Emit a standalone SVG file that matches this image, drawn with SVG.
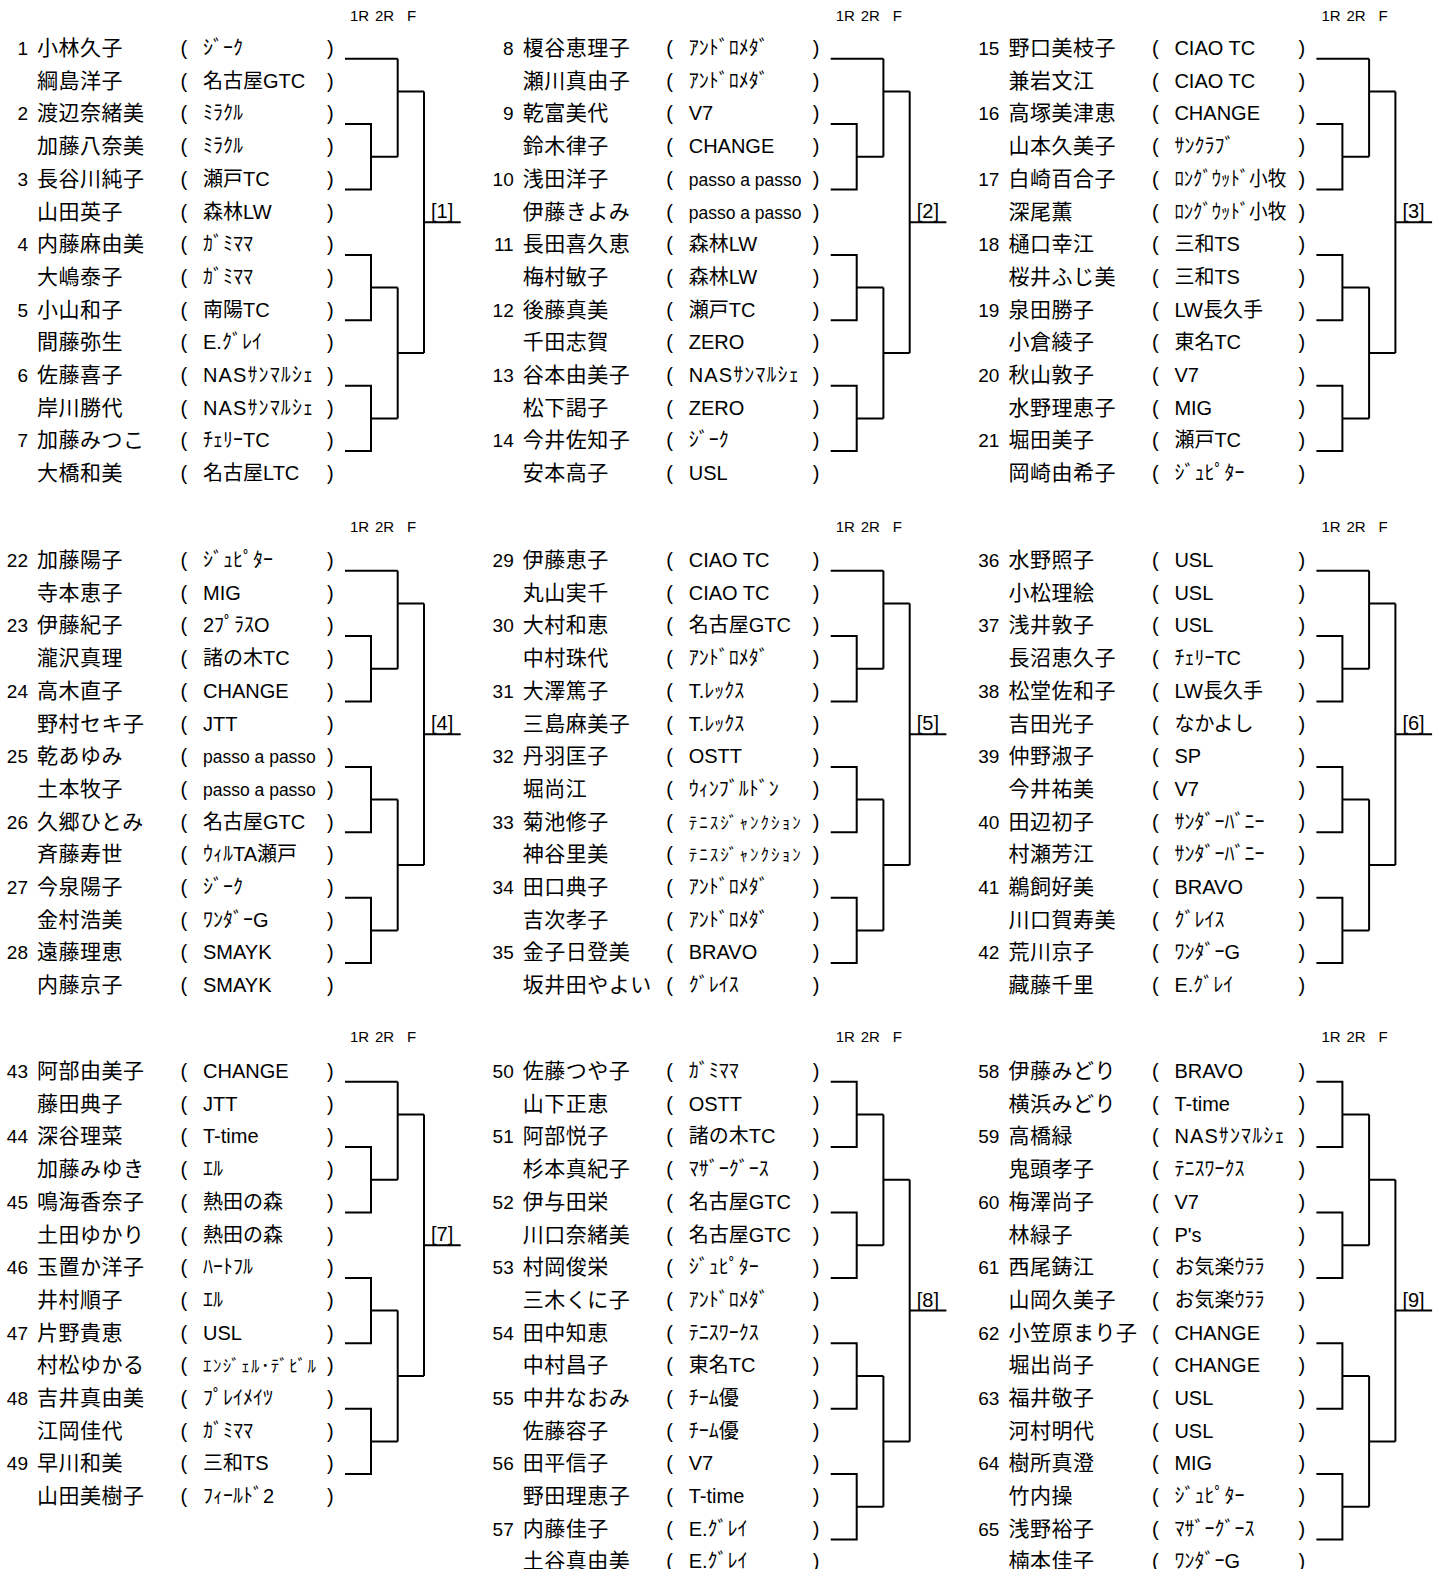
<svg xmlns="http://www.w3.org/2000/svg" xmlns:xlink="http://www.w3.org/1999/xlink" width="1442" height="1569" viewBox="0 0 1442 1569">
<style>
text{font-family:"Liberation Sans","Noto Sans CJK JP",sans-serif;fill:#000}
.n{font-size:19px;text-anchor:end}
.m{font-size:21px;letter-spacing:0.5px}
.p,.t{font-size:20px}
.s{font-size:17.5px}
.h{font-size:15px}
.r{font-size:20px}
.l{fill:none;stroke:#000;stroke-width:2}
</style>
<defs>
<path id="br7" class="l" d="M345 58.7H397.7M345 124.1H371V189.5H345M371 156.8H397.7M397.7 58.7V156.8M397.7 91.4H424M345 254.9H371V320.3H345M371 287.6H397.7M345 385.7H371V451.1H345M371 418.4H397.7M397.7 287.6V418.4M397.7 353H424M424 91.4V353M424 222.2H460.7"/>
<path id="br8" class="l" d="M345 58.7H371V124.1H345M371 91.4H397.7M345 189.5H371V254.9H345M371 222.2H397.7M397.7 91.4V222.2M397.7 156.8H424M345 320.3H371V385.7H345M371 353H397.7M345 451.1H371V516.5H345M371 483.8H397.7M397.7 353V483.8M397.7 418.4H424M424 156.8V418.4M424 287.6H460.7"/>
</defs>
<rect width="1442" height="1569" fill="#fff"/>
<g id="connectors">
<use xlink:href="#br7" href="#br7"/>
<use xlink:href="#br7" href="#br7" transform="translate(485.7,0)"/>
<use xlink:href="#br7" href="#br7" transform="translate(971.4,0)"/>
<use xlink:href="#br7" href="#br7" transform="translate(0,512)"/>
<use xlink:href="#br7" href="#br7" transform="translate(485.7,512)"/>
<use xlink:href="#br7" href="#br7" transform="translate(971.4,512)"/>
<use xlink:href="#br7" href="#br7" transform="translate(0,1023)"/>
<use xlink:href="#br8" href="#br8" transform="translate(485.7,1023)"/>
<use xlink:href="#br8" href="#br8" transform="translate(971.4,1023)"/>
</g>

<g id="block-1">
<text class="h" y="21"><tspan x="350">1R</tspan><tspan x="375">2R</tspan><tspan x="407">F</tspan></text>
<g id="result-1"><text class="r" x="431" y="218">[1]</text></g>
<g id="team-1"><text class="n" x="28" y="55">1</text>
<text class="m" x="37" y="55">小林久子</text><text class="p" y="55"><tspan x="180.5">(</tspan><tspan x="327">)</tspan></text><text class="t" x="203" y="55">ｼﾞｰｸ</text>
<text class="m" x="37" y="87.7">綱島洋子</text><text class="p" y="87.7"><tspan x="180.5">(</tspan><tspan x="327">)</tspan></text><text class="t" x="203" y="87.7">名古屋GTC</text></g>
<g id="team-2"><text class="n" x="28" y="120.4">2</text>
<text class="m" x="37" y="120.4">渡辺奈緒美</text><text class="p" y="120.4"><tspan x="180.5">(</tspan><tspan x="327">)</tspan></text><text class="t" x="203" y="120.4">ﾐﾗｸﾙ</text>
<text class="m" x="37" y="153.1">加藤八奈美</text><text class="p" y="153.1"><tspan x="180.5">(</tspan><tspan x="327">)</tspan></text><text class="t" x="203" y="153.1">ﾐﾗｸﾙ</text></g>
<g id="team-3"><text class="n" x="28" y="185.8">3</text>
<text class="m" x="37" y="185.8">長谷川純子</text><text class="p" y="185.8"><tspan x="180.5">(</tspan><tspan x="327">)</tspan></text><text class="t" x="203" y="185.8">瀬戸TC</text>
<text class="m" x="37" y="218.5">山田英子</text><text class="p" y="218.5"><tspan x="180.5">(</tspan><tspan x="327">)</tspan></text><text class="t" x="203" y="218.5">森林LW</text></g>
<g id="team-4"><text class="n" x="28" y="251.2">4</text>
<text class="m" x="37" y="251.2">内藤麻由美</text><text class="p" y="251.2"><tspan x="180.5">(</tspan><tspan x="327">)</tspan></text><text class="t" x="203" y="251.2">ｶﾞﾐﾏﾏ</text>
<text class="m" x="37" y="283.9">大嶋泰子</text><text class="p" y="283.9"><tspan x="180.5">(</tspan><tspan x="327">)</tspan></text><text class="t" x="203" y="283.9">ｶﾞﾐﾏﾏ</text></g>
<g id="team-5"><text class="n" x="28" y="316.6">5</text>
<text class="m" x="37" y="316.6">小山和子</text><text class="p" y="316.6"><tspan x="180.5">(</tspan><tspan x="327">)</tspan></text><text class="t" x="203" y="316.6">南陽TC</text>
<text class="m" x="37" y="349.3">間藤弥生</text><text class="p" y="349.3"><tspan x="180.5">(</tspan><tspan x="327">)</tspan></text><text class="t" x="203" y="349.3">E.ｸﾞﾚｲ</text></g>
<g id="team-6"><text class="n" x="28" y="382">6</text>
<text class="m" x="37" y="382">佐藤喜子</text><text class="p" y="382"><tspan x="180.5">(</tspan><tspan x="327">)</tspan></text><text class="t" x="203" y="382" textLength="110">NASｻﾝﾏﾙｼｪ</text>
<text class="m" x="37" y="414.7">岸川勝代</text><text class="p" y="414.7"><tspan x="180.5">(</tspan><tspan x="327">)</tspan></text><text class="t" x="203" y="414.7" textLength="110">NASｻﾝﾏﾙｼｪ</text></g>
<g id="team-7"><text class="n" x="28" y="447.4">7</text>
<text class="m" x="37" y="447.4">加藤みつこ</text><text class="p" y="447.4"><tspan x="180.5">(</tspan><tspan x="327">)</tspan></text><text class="t" x="203" y="447.4">ﾁｪﾘｰTC</text>
<text class="m" x="37" y="480.1">大橋和美</text><text class="p" y="480.1"><tspan x="180.5">(</tspan><tspan x="327">)</tspan></text><text class="t" x="203" y="480.1">名古屋LTC</text></g>
</g>

<g id="block-2" transform="translate(485.7,0)">
<text class="h" y="21"><tspan x="350">1R</tspan><tspan x="375">2R</tspan><tspan x="407">F</tspan></text>
<g id="result-2"><text class="r" x="431" y="218">[2]</text></g>
<g id="team-8"><text class="n" x="28" y="55">8</text>
<text class="m" x="37" y="55">榎谷恵理子</text><text class="p" y="55"><tspan x="180.5">(</tspan><tspan x="327">)</tspan></text><text class="t" x="203" y="55">ｱﾝﾄﾞﾛﾒﾀﾞ</text>
<text class="m" x="37" y="87.7">瀬川真由子</text><text class="p" y="87.7"><tspan x="180.5">(</tspan><tspan x="327">)</tspan></text><text class="t" x="203" y="87.7">ｱﾝﾄﾞﾛﾒﾀﾞ</text></g>
<g id="team-9"><text class="n" x="28" y="120.4">9</text>
<text class="m" x="37" y="120.4">乾富美代</text><text class="p" y="120.4"><tspan x="180.5">(</tspan><tspan x="327">)</tspan></text><text class="t" x="203" y="120.4">V7</text>
<text class="m" x="37" y="153.1">鈴木律子</text><text class="p" y="153.1"><tspan x="180.5">(</tspan><tspan x="327">)</tspan></text><text class="t" x="203" y="153.1">CHANGE</text></g>
<g id="team-10"><text class="n" x="28" y="185.8">10</text>
<text class="m" x="37" y="185.8">浅田洋子</text><text class="p" y="185.8"><tspan x="180.5">(</tspan><tspan x="327">)</tspan></text><text class="s" x="203" y="185.8">passo a passo</text>
<text class="m" x="37" y="218.5">伊藤きよみ</text><text class="p" y="218.5"><tspan x="180.5">(</tspan><tspan x="327">)</tspan></text><text class="s" x="203" y="218.5">passo a passo</text></g>
<g id="team-11"><text class="n" x="28" y="251.2">11</text>
<text class="m" x="37" y="251.2">長田喜久恵</text><text class="p" y="251.2"><tspan x="180.5">(</tspan><tspan x="327">)</tspan></text><text class="t" x="203" y="251.2">森林LW</text>
<text class="m" x="37" y="283.9">梅村敏子</text><text class="p" y="283.9"><tspan x="180.5">(</tspan><tspan x="327">)</tspan></text><text class="t" x="203" y="283.9">森林LW</text></g>
<g id="team-12"><text class="n" x="28" y="316.6">12</text>
<text class="m" x="37" y="316.6">後藤真美</text><text class="p" y="316.6"><tspan x="180.5">(</tspan><tspan x="327">)</tspan></text><text class="t" x="203" y="316.6">瀬戸TC</text>
<text class="m" x="37" y="349.3">千田志賀</text><text class="p" y="349.3"><tspan x="180.5">(</tspan><tspan x="327">)</tspan></text><text class="t" x="203" y="349.3">ZERO</text></g>
<g id="team-13"><text class="n" x="28" y="382">13</text>
<text class="m" x="37" y="382">谷本由美子</text><text class="p" y="382"><tspan x="180.5">(</tspan><tspan x="327">)</tspan></text><text class="t" x="203" y="382" textLength="110">NASｻﾝﾏﾙｼｪ</text>
<text class="m" x="37" y="414.7">松下謁子</text><text class="p" y="414.7"><tspan x="180.5">(</tspan><tspan x="327">)</tspan></text><text class="t" x="203" y="414.7">ZERO</text></g>
<g id="team-14"><text class="n" x="28" y="447.4">14</text>
<text class="m" x="37" y="447.4">今井佐知子</text><text class="p" y="447.4"><tspan x="180.5">(</tspan><tspan x="327">)</tspan></text><text class="t" x="203" y="447.4">ｼﾞｰｸ</text>
<text class="m" x="37" y="480.1">安本高子</text><text class="p" y="480.1"><tspan x="180.5">(</tspan><tspan x="327">)</tspan></text><text class="t" x="203" y="480.1">USL</text></g>
</g>

<g id="block-3" transform="translate(971.4,0)">
<text class="h" y="21"><tspan x="350">1R</tspan><tspan x="375">2R</tspan><tspan x="407">F</tspan></text>
<g id="result-3"><text class="r" x="431" y="218">[3]</text></g>
<g id="team-15"><text class="n" x="28" y="55">15</text>
<text class="m" x="37" y="55">野口美枝子</text><text class="p" y="55"><tspan x="180.5">(</tspan><tspan x="327">)</tspan></text><text class="t" x="203" y="55">CIAO TC</text>
<text class="m" x="37" y="87.7">兼岩文江</text><text class="p" y="87.7"><tspan x="180.5">(</tspan><tspan x="327">)</tspan></text><text class="t" x="203" y="87.7">CIAO TC</text></g>
<g id="team-16"><text class="n" x="28" y="120.4">16</text>
<text class="m" x="37" y="120.4">高塚美津恵</text><text class="p" y="120.4"><tspan x="180.5">(</tspan><tspan x="327">)</tspan></text><text class="t" x="203" y="120.4">CHANGE</text>
<text class="m" x="37" y="153.1">山本久美子</text><text class="p" y="153.1"><tspan x="180.5">(</tspan><tspan x="327">)</tspan></text><text class="t" x="203" y="153.1">ｻﾝｸﾗﾌﾞ</text></g>
<g id="team-17"><text class="n" x="28" y="185.8">17</text>
<text class="m" x="37" y="185.8">白崎百合子</text><text class="p" y="185.8"><tspan x="180.5">(</tspan><tspan x="327">)</tspan></text><text class="t" x="203" y="185.8" textLength="112" lengthAdjust="spacingAndGlyphs">ﾛﾝｸﾞｳｯﾄﾞ小牧</text>
<text class="m" x="37" y="218.5">深尾薫</text><text class="p" y="218.5"><tspan x="180.5">(</tspan><tspan x="327">)</tspan></text><text class="t" x="203" y="218.5" textLength="112" lengthAdjust="spacingAndGlyphs">ﾛﾝｸﾞｳｯﾄﾞ小牧</text></g>
<g id="team-18"><text class="n" x="28" y="251.2">18</text>
<text class="m" x="37" y="251.2">樋口幸江</text><text class="p" y="251.2"><tspan x="180.5">(</tspan><tspan x="327">)</tspan></text><text class="t" x="203" y="251.2">三和TS</text>
<text class="m" x="37" y="283.9">桜井ふじ美</text><text class="p" y="283.9"><tspan x="180.5">(</tspan><tspan x="327">)</tspan></text><text class="t" x="203" y="283.9">三和TS</text></g>
<g id="team-19"><text class="n" x="28" y="316.6">19</text>
<text class="m" x="37" y="316.6">泉田勝子</text><text class="p" y="316.6"><tspan x="180.5">(</tspan><tspan x="327">)</tspan></text><text class="t" x="203" y="316.6">LW長久手</text>
<text class="m" x="37" y="349.3">小倉綾子</text><text class="p" y="349.3"><tspan x="180.5">(</tspan><tspan x="327">)</tspan></text><text class="t" x="203" y="349.3">東名TC</text></g>
<g id="team-20"><text class="n" x="28" y="382">20</text>
<text class="m" x="37" y="382">秋山敦子</text><text class="p" y="382"><tspan x="180.5">(</tspan><tspan x="327">)</tspan></text><text class="t" x="203" y="382">V7</text>
<text class="m" x="37" y="414.7">水野理恵子</text><text class="p" y="414.7"><tspan x="180.5">(</tspan><tspan x="327">)</tspan></text><text class="t" x="203" y="414.7">MIG</text></g>
<g id="team-21"><text class="n" x="28" y="447.4">21</text>
<text class="m" x="37" y="447.4">堀田美子</text><text class="p" y="447.4"><tspan x="180.5">(</tspan><tspan x="327">)</tspan></text><text class="t" x="203" y="447.4">瀬戸TC</text>
<text class="m" x="37" y="480.1">岡崎由希子</text><text class="p" y="480.1"><tspan x="180.5">(</tspan><tspan x="327">)</tspan></text><text class="t" x="203" y="480.1">ｼﾞｭﾋﾟﾀｰ</text></g>
</g>

<g id="block-4" transform="translate(0,512)">
<text class="h" y="20"><tspan x="350">1R</tspan><tspan x="375">2R</tspan><tspan x="407">F</tspan></text>
<g id="result-4"><text class="r" x="431" y="218">[4]</text></g>
<g id="team-22"><text class="n" x="28" y="55">22</text>
<text class="m" x="37" y="55">加藤陽子</text><text class="p" y="55"><tspan x="180.5">(</tspan><tspan x="327">)</tspan></text><text class="t" x="203" y="55">ｼﾞｭﾋﾟﾀｰ</text>
<text class="m" x="37" y="87.7">寺本恵子</text><text class="p" y="87.7"><tspan x="180.5">(</tspan><tspan x="327">)</tspan></text><text class="t" x="203" y="87.7">MIG</text></g>
<g id="team-23"><text class="n" x="28" y="120.4">23</text>
<text class="m" x="37" y="120.4">伊藤紀子</text><text class="p" y="120.4"><tspan x="180.5">(</tspan><tspan x="327">)</tspan></text><text class="t" x="203" y="120.4">2ﾌﾟﾗｽO</text>
<text class="m" x="37" y="153.1">瀧沢真理</text><text class="p" y="153.1"><tspan x="180.5">(</tspan><tspan x="327">)</tspan></text><text class="t" x="203" y="153.1">諸の木TC</text></g>
<g id="team-24"><text class="n" x="28" y="185.8">24</text>
<text class="m" x="37" y="185.8">高木直子</text><text class="p" y="185.8"><tspan x="180.5">(</tspan><tspan x="327">)</tspan></text><text class="t" x="203" y="185.8">CHANGE</text>
<text class="m" x="37" y="218.5">野村セキ子</text><text class="p" y="218.5"><tspan x="180.5">(</tspan><tspan x="327">)</tspan></text><text class="t" x="203" y="218.5">JTT</text></g>
<g id="team-25"><text class="n" x="28" y="251.2">25</text>
<text class="m" x="37" y="251.2">乾あゆみ</text><text class="p" y="251.2"><tspan x="180.5">(</tspan><tspan x="327">)</tspan></text><text class="s" x="203" y="251.2">passo a passo</text>
<text class="m" x="37" y="283.9">土本牧子</text><text class="p" y="283.9"><tspan x="180.5">(</tspan><tspan x="327">)</tspan></text><text class="s" x="203" y="283.9">passo a passo</text></g>
<g id="team-26"><text class="n" x="28" y="316.6">26</text>
<text class="m" x="37" y="316.6">久郷ひとみ</text><text class="p" y="316.6"><tspan x="180.5">(</tspan><tspan x="327">)</tspan></text><text class="t" x="203" y="316.6">名古屋GTC</text>
<text class="m" x="37" y="349.3">斉藤寿世</text><text class="p" y="349.3"><tspan x="180.5">(</tspan><tspan x="327">)</tspan></text><text class="t" x="203" y="349.3">ｳｨﾙTA瀬戸</text></g>
<g id="team-27"><text class="n" x="28" y="382">27</text>
<text class="m" x="37" y="382">今泉陽子</text><text class="p" y="382"><tspan x="180.5">(</tspan><tspan x="327">)</tspan></text><text class="t" x="203" y="382">ｼﾞｰｸ</text>
<text class="m" x="37" y="414.7">金村浩美</text><text class="p" y="414.7"><tspan x="180.5">(</tspan><tspan x="327">)</tspan></text><text class="t" x="203" y="414.7">ﾜﾝﾀﾞｰG</text></g>
<g id="team-28"><text class="n" x="28" y="447.4">28</text>
<text class="m" x="37" y="447.4">遠藤理恵</text><text class="p" y="447.4"><tspan x="180.5">(</tspan><tspan x="327">)</tspan></text><text class="t" x="203" y="447.4">SMAYK</text>
<text class="m" x="37" y="480.1">内藤京子</text><text class="p" y="480.1"><tspan x="180.5">(</tspan><tspan x="327">)</tspan></text><text class="t" x="203" y="480.1">SMAYK</text></g>
</g>

<g id="block-5" transform="translate(485.7,512)">
<text class="h" y="20"><tspan x="350">1R</tspan><tspan x="375">2R</tspan><tspan x="407">F</tspan></text>
<g id="result-5"><text class="r" x="431" y="218">[5]</text></g>
<g id="team-29"><text class="n" x="28" y="55">29</text>
<text class="m" x="37" y="55">伊藤恵子</text><text class="p" y="55"><tspan x="180.5">(</tspan><tspan x="327">)</tspan></text><text class="t" x="203" y="55">CIAO TC</text>
<text class="m" x="37" y="87.7">丸山実千</text><text class="p" y="87.7"><tspan x="180.5">(</tspan><tspan x="327">)</tspan></text><text class="t" x="203" y="87.7">CIAO TC</text></g>
<g id="team-30"><text class="n" x="28" y="120.4">30</text>
<text class="m" x="37" y="120.4">大村和恵</text><text class="p" y="120.4"><tspan x="180.5">(</tspan><tspan x="327">)</tspan></text><text class="t" x="203" y="120.4">名古屋GTC</text>
<text class="m" x="37" y="153.1">中村珠代</text><text class="p" y="153.1"><tspan x="180.5">(</tspan><tspan x="327">)</tspan></text><text class="t" x="203" y="153.1">ｱﾝﾄﾞﾛﾒﾀﾞ</text></g>
<g id="team-31"><text class="n" x="28" y="185.8">31</text>
<text class="m" x="37" y="185.8">大澤篤子</text><text class="p" y="185.8"><tspan x="180.5">(</tspan><tspan x="327">)</tspan></text><text class="t" x="203" y="185.8">T.ﾚｯｸｽ</text>
<text class="m" x="37" y="218.5">三島麻美子</text><text class="p" y="218.5"><tspan x="180.5">(</tspan><tspan x="327">)</tspan></text><text class="t" x="203" y="218.5">T.ﾚｯｸｽ</text></g>
<g id="team-32"><text class="n" x="28" y="251.2">32</text>
<text class="m" x="37" y="251.2">丹羽匡子</text><text class="p" y="251.2"><tspan x="180.5">(</tspan><tspan x="327">)</tspan></text><text class="t" x="203" y="251.2">OSTT</text>
<text class="m" x="37" y="283.9">堀尚江</text><text class="p" y="283.9"><tspan x="180.5">(</tspan><tspan x="327">)</tspan></text><text class="t" x="203" y="283.9">ｳｨﾝﾌﾞﾙﾄﾞﾝ</text></g>
<g id="team-33"><text class="n" x="28" y="316.6">33</text>
<text class="m" x="37" y="316.6">菊池修子</text><text class="p" y="316.6"><tspan x="180.5">(</tspan><tspan x="327">)</tspan></text><text class="t" x="203" y="316.6" style="font-size:17px" textLength="112">ﾃﾆｽｼﾞｬﾝｸｼｮﾝ</text>
<text class="m" x="37" y="349.3">神谷里美</text><text class="p" y="349.3"><tspan x="180.5">(</tspan><tspan x="327">)</tspan></text><text class="t" x="203" y="349.3" style="font-size:17px" textLength="112">ﾃﾆｽｼﾞｬﾝｸｼｮﾝ</text></g>
<g id="team-34"><text class="n" x="28" y="382">34</text>
<text class="m" x="37" y="382">田口典子</text><text class="p" y="382"><tspan x="180.5">(</tspan><tspan x="327">)</tspan></text><text class="t" x="203" y="382">ｱﾝﾄﾞﾛﾒﾀﾞ</text>
<text class="m" x="37" y="414.7">吉次孝子</text><text class="p" y="414.7"><tspan x="180.5">(</tspan><tspan x="327">)</tspan></text><text class="t" x="203" y="414.7">ｱﾝﾄﾞﾛﾒﾀﾞ</text></g>
<g id="team-35"><text class="n" x="28" y="447.4">35</text>
<text class="m" x="37" y="447.4">金子日登美</text><text class="p" y="447.4"><tspan x="180.5">(</tspan><tspan x="327">)</tspan></text><text class="t" x="203" y="447.4">BRAVO</text>
<text class="m" x="37" y="480.1">坂井田やよい</text><text class="p" y="480.1"><tspan x="180.5">(</tspan><tspan x="327">)</tspan></text><text class="t" x="203" y="480.1">ｸﾞﾚｲｽ</text></g>
</g>

<g id="block-6" transform="translate(971.4,512)">
<text class="h" y="20"><tspan x="350">1R</tspan><tspan x="375">2R</tspan><tspan x="407">F</tspan></text>
<g id="result-6"><text class="r" x="431" y="218">[6]</text></g>
<g id="team-36"><text class="n" x="28" y="55">36</text>
<text class="m" x="37" y="55">水野照子</text><text class="p" y="55"><tspan x="180.5">(</tspan><tspan x="327">)</tspan></text><text class="t" x="203" y="55">USL</text>
<text class="m" x="37" y="87.7">小松理絵</text><text class="p" y="87.7"><tspan x="180.5">(</tspan><tspan x="327">)</tspan></text><text class="t" x="203" y="87.7">USL</text></g>
<g id="team-37"><text class="n" x="28" y="120.4">37</text>
<text class="m" x="37" y="120.4">浅井敦子</text><text class="p" y="120.4"><tspan x="180.5">(</tspan><tspan x="327">)</tspan></text><text class="t" x="203" y="120.4">USL</text>
<text class="m" x="37" y="153.1">長沼恵久子</text><text class="p" y="153.1"><tspan x="180.5">(</tspan><tspan x="327">)</tspan></text><text class="t" x="203" y="153.1">ﾁｪﾘｰTC</text></g>
<g id="team-38"><text class="n" x="28" y="185.8">38</text>
<text class="m" x="37" y="185.8">松堂佐和子</text><text class="p" y="185.8"><tspan x="180.5">(</tspan><tspan x="327">)</tspan></text><text class="t" x="203" y="185.8">LW長久手</text>
<text class="m" x="37" y="218.5">吉田光子</text><text class="p" y="218.5"><tspan x="180.5">(</tspan><tspan x="327">)</tspan></text><text class="t" x="203" y="218.5">なかよし</text></g>
<g id="team-39"><text class="n" x="28" y="251.2">39</text>
<text class="m" x="37" y="251.2">仲野淑子</text><text class="p" y="251.2"><tspan x="180.5">(</tspan><tspan x="327">)</tspan></text><text class="t" x="203" y="251.2">SP</text>
<text class="m" x="37" y="283.9">今井祐美</text><text class="p" y="283.9"><tspan x="180.5">(</tspan><tspan x="327">)</tspan></text><text class="t" x="203" y="283.9">V7</text></g>
<g id="team-40"><text class="n" x="28" y="316.6">40</text>
<text class="m" x="37" y="316.6">田辺初子</text><text class="p" y="316.6"><tspan x="180.5">(</tspan><tspan x="327">)</tspan></text><text class="t" x="203" y="316.6">ｻﾝﾀﾞｰﾊﾞﾆｰ</text>
<text class="m" x="37" y="349.3">村瀬芳江</text><text class="p" y="349.3"><tspan x="180.5">(</tspan><tspan x="327">)</tspan></text><text class="t" x="203" y="349.3">ｻﾝﾀﾞｰﾊﾞﾆｰ</text></g>
<g id="team-41"><text class="n" x="28" y="382">41</text>
<text class="m" x="37" y="382">鵜飼好美</text><text class="p" y="382"><tspan x="180.5">(</tspan><tspan x="327">)</tspan></text><text class="t" x="203" y="382">BRAVO</text>
<text class="m" x="37" y="414.7">川口賀寿美</text><text class="p" y="414.7"><tspan x="180.5">(</tspan><tspan x="327">)</tspan></text><text class="t" x="203" y="414.7">ｸﾞﾚｲｽ</text></g>
<g id="team-42"><text class="n" x="28" y="447.4">42</text>
<text class="m" x="37" y="447.4">荒川京子</text><text class="p" y="447.4"><tspan x="180.5">(</tspan><tspan x="327">)</tspan></text><text class="t" x="203" y="447.4">ﾜﾝﾀﾞｰG</text>
<text class="m" x="37" y="480.1">藏藤千里</text><text class="p" y="480.1"><tspan x="180.5">(</tspan><tspan x="327">)</tspan></text><text class="t" x="203" y="480.1">E.ｸﾞﾚｲ</text></g>
</g>

<g id="block-7" transform="translate(0,1023)">
<text class="h" y="19"><tspan x="350">1R</tspan><tspan x="375">2R</tspan><tspan x="407">F</tspan></text>
<g id="result-7"><text class="r" x="431" y="218">[7]</text></g>
<g id="team-43"><text class="n" x="28" y="55">43</text>
<text class="m" x="37" y="55">阿部由美子</text><text class="p" y="55"><tspan x="180.5">(</tspan><tspan x="327">)</tspan></text><text class="t" x="203" y="55">CHANGE</text>
<text class="m" x="37" y="87.7">藤田典子</text><text class="p" y="87.7"><tspan x="180.5">(</tspan><tspan x="327">)</tspan></text><text class="t" x="203" y="87.7">JTT</text></g>
<g id="team-44"><text class="n" x="28" y="120.4">44</text>
<text class="m" x="37" y="120.4">深谷理菜</text><text class="p" y="120.4"><tspan x="180.5">(</tspan><tspan x="327">)</tspan></text><text class="t" x="203" y="120.4">T-time</text>
<text class="m" x="37" y="153.1">加藤みゆき</text><text class="p" y="153.1"><tspan x="180.5">(</tspan><tspan x="327">)</tspan></text><text class="t" x="203" y="153.1">ｴﾙ</text></g>
<g id="team-45"><text class="n" x="28" y="185.8">45</text>
<text class="m" x="37" y="185.8">鳴海香奈子</text><text class="p" y="185.8"><tspan x="180.5">(</tspan><tspan x="327">)</tspan></text><text class="t" x="203" y="185.8">熱田の森</text>
<text class="m" x="37" y="218.5">土田ゆかり</text><text class="p" y="218.5"><tspan x="180.5">(</tspan><tspan x="327">)</tspan></text><text class="t" x="203" y="218.5">熱田の森</text></g>
<g id="team-46"><text class="n" x="28" y="251.2">46</text>
<text class="m" x="37" y="251.2">玉置か洋子</text><text class="p" y="251.2"><tspan x="180.5">(</tspan><tspan x="327">)</tspan></text><text class="t" x="203" y="251.2">ﾊｰﾄﾌﾙ</text>
<text class="m" x="37" y="283.9">井村順子</text><text class="p" y="283.9"><tspan x="180.5">(</tspan><tspan x="327">)</tspan></text><text class="t" x="203" y="283.9">ｴﾙ</text></g>
<g id="team-47"><text class="n" x="28" y="316.6">47</text>
<text class="m" x="37" y="316.6">片野貴恵</text><text class="p" y="316.6"><tspan x="180.5">(</tspan><tspan x="327">)</tspan></text><text class="t" x="203" y="316.6">USL</text>
<text class="m" x="37" y="349.3">村松ゆかる</text><text class="p" y="349.3"><tspan x="180.5">(</tspan><tspan x="327">)</tspan></text><text class="t" x="203" y="349.3" style="font-size:17px" textLength="113">ｴﾝｼﾞｪﾙ･ﾃﾞﾋﾞﾙ</text></g>
<g id="team-48"><text class="n" x="28" y="382">48</text>
<text class="m" x="37" y="382">吉井真由美</text><text class="p" y="382"><tspan x="180.5">(</tspan><tspan x="327">)</tspan></text><text class="t" x="203" y="382">ﾌﾟﾚｲﾒｲﾂ</text>
<text class="m" x="37" y="414.7">江岡佳代</text><text class="p" y="414.7"><tspan x="180.5">(</tspan><tspan x="327">)</tspan></text><text class="t" x="203" y="414.7">ｶﾞﾐﾏﾏ</text></g>
<g id="team-49"><text class="n" x="28" y="447.4">49</text>
<text class="m" x="37" y="447.4">早川和美</text><text class="p" y="447.4"><tspan x="180.5">(</tspan><tspan x="327">)</tspan></text><text class="t" x="203" y="447.4">三和TS</text>
<text class="m" x="37" y="480.1">山田美樹子</text><text class="p" y="480.1"><tspan x="180.5">(</tspan><tspan x="327">)</tspan></text><text class="t" x="203" y="480.1">ﾌｨｰﾙﾄﾞ2</text></g>
</g>

<g id="block-8" transform="translate(485.7,1023)">
<text class="h" y="19"><tspan x="350">1R</tspan><tspan x="375">2R</tspan><tspan x="407">F</tspan></text>
<g id="result-8"><text class="r" x="431" y="283.5">[8]</text></g>
<g id="team-50"><text class="n" x="28" y="55">50</text>
<text class="m" x="37" y="55">佐藤つや子</text><text class="p" y="55"><tspan x="180.5">(</tspan><tspan x="327">)</tspan></text><text class="t" x="203" y="55">ｶﾞﾐﾏﾏ</text>
<text class="m" x="37" y="87.7">山下正恵</text><text class="p" y="87.7"><tspan x="180.5">(</tspan><tspan x="327">)</tspan></text><text class="t" x="203" y="87.7">OSTT</text></g>
<g id="team-51"><text class="n" x="28" y="120.4">51</text>
<text class="m" x="37" y="120.4">阿部悦子</text><text class="p" y="120.4"><tspan x="180.5">(</tspan><tspan x="327">)</tspan></text><text class="t" x="203" y="120.4">諸の木TC</text>
<text class="m" x="37" y="153.1">杉本真紀子</text><text class="p" y="153.1"><tspan x="180.5">(</tspan><tspan x="327">)</tspan></text><text class="t" x="203" y="153.1">ﾏｻﾞｰｸﾞｰｽ</text></g>
<g id="team-52"><text class="n" x="28" y="185.8">52</text>
<text class="m" x="37" y="185.8">伊与田栄</text><text class="p" y="185.8"><tspan x="180.5">(</tspan><tspan x="327">)</tspan></text><text class="t" x="203" y="185.8">名古屋GTC</text>
<text class="m" x="37" y="218.5">川口奈緒美</text><text class="p" y="218.5"><tspan x="180.5">(</tspan><tspan x="327">)</tspan></text><text class="t" x="203" y="218.5">名古屋GTC</text></g>
<g id="team-53"><text class="n" x="28" y="251.2">53</text>
<text class="m" x="37" y="251.2">村岡俊栄</text><text class="p" y="251.2"><tspan x="180.5">(</tspan><tspan x="327">)</tspan></text><text class="t" x="203" y="251.2">ｼﾞｭﾋﾟﾀｰ</text>
<text class="m" x="37" y="283.9">三木くに子</text><text class="p" y="283.9"><tspan x="180.5">(</tspan><tspan x="327">)</tspan></text><text class="t" x="203" y="283.9">ｱﾝﾄﾞﾛﾒﾀﾞ</text></g>
<g id="team-54"><text class="n" x="28" y="316.6">54</text>
<text class="m" x="37" y="316.6">田中知恵</text><text class="p" y="316.6"><tspan x="180.5">(</tspan><tspan x="327">)</tspan></text><text class="t" x="203" y="316.6">ﾃﾆｽﾜｰｸｽ</text>
<text class="m" x="37" y="349.3">中村昌子</text><text class="p" y="349.3"><tspan x="180.5">(</tspan><tspan x="327">)</tspan></text><text class="t" x="203" y="349.3">東名TC</text></g>
<g id="team-55"><text class="n" x="28" y="382">55</text>
<text class="m" x="37" y="382">中井なおみ</text><text class="p" y="382"><tspan x="180.5">(</tspan><tspan x="327">)</tspan></text><text class="t" x="203" y="382">ﾁｰﾑ優</text>
<text class="m" x="37" y="414.7">佐藤容子</text><text class="p" y="414.7"><tspan x="180.5">(</tspan><tspan x="327">)</tspan></text><text class="t" x="203" y="414.7">ﾁｰﾑ優</text></g>
<g id="team-56"><text class="n" x="28" y="447.4">56</text>
<text class="m" x="37" y="447.4">田平信子</text><text class="p" y="447.4"><tspan x="180.5">(</tspan><tspan x="327">)</tspan></text><text class="t" x="203" y="447.4">V7</text>
<text class="m" x="37" y="480.1">野田理恵子</text><text class="p" y="480.1"><tspan x="180.5">(</tspan><tspan x="327">)</tspan></text><text class="t" x="203" y="480.1">T-time</text></g>
<g id="team-57"><text class="n" x="28" y="512.8">57</text>
<text class="m" x="37" y="512.8">内藤佳子</text><text class="p" y="512.8"><tspan x="180.5">(</tspan><tspan x="327">)</tspan></text><text class="t" x="203" y="512.8">E.ｸﾞﾚｲ</text>
<text class="m" x="37" y="544.5">土谷真由美</text><text class="p" y="544.5"><tspan x="180.5">(</tspan><tspan x="327">)</tspan></text><text class="t" x="203" y="544.5">E.ｸﾞﾚｲ</text></g>
</g>

<g id="block-9" transform="translate(971.4,1023)">
<text class="h" y="19"><tspan x="350">1R</tspan><tspan x="375">2R</tspan><tspan x="407">F</tspan></text>
<g id="result-9"><text class="r" x="431" y="283.5">[9]</text></g>
<g id="team-58"><text class="n" x="28" y="55">58</text>
<text class="m" x="37" y="55">伊藤みどり</text><text class="p" y="55"><tspan x="180.5">(</tspan><tspan x="327">)</tspan></text><text class="t" x="203" y="55">BRAVO</text>
<text class="m" x="37" y="87.7">横浜みどり</text><text class="p" y="87.7"><tspan x="180.5">(</tspan><tspan x="327">)</tspan></text><text class="t" x="203" y="87.7">T-time</text></g>
<g id="team-59"><text class="n" x="28" y="120.4">59</text>
<text class="m" x="37" y="120.4">高橋緑</text><text class="p" y="120.4"><tspan x="180.5">(</tspan><tspan x="327">)</tspan></text><text class="t" x="203" y="120.4" textLength="110">NASｻﾝﾏﾙｼｪ</text>
<text class="m" x="37" y="153.1">鬼頭孝子</text><text class="p" y="153.1"><tspan x="180.5">(</tspan><tspan x="327">)</tspan></text><text class="t" x="203" y="153.1">ﾃﾆｽﾜｰｸｽ</text></g>
<g id="team-60"><text class="n" x="28" y="185.8">60</text>
<text class="m" x="37" y="185.8">梅澤尚子</text><text class="p" y="185.8"><tspan x="180.5">(</tspan><tspan x="327">)</tspan></text><text class="t" x="203" y="185.8">V7</text>
<text class="m" x="37" y="218.5">林緑子</text><text class="p" y="218.5"><tspan x="180.5">(</tspan><tspan x="327">)</tspan></text><text class="t" x="203" y="218.5">P's</text></g>
<g id="team-61"><text class="n" x="28" y="251.2">61</text>
<text class="m" x="37" y="251.2">西尾鋳江</text><text class="p" y="251.2"><tspan x="180.5">(</tspan><tspan x="327">)</tspan></text><text class="t" x="203" y="251.2">お気楽ｳﾗﾗ</text>
<text class="m" x="37" y="283.9">山岡久美子</text><text class="p" y="283.9"><tspan x="180.5">(</tspan><tspan x="327">)</tspan></text><text class="t" x="203" y="283.9">お気楽ｳﾗﾗ</text></g>
<g id="team-62"><text class="n" x="28" y="316.6">62</text>
<text class="m" x="37" y="316.6">小笠原まり子</text><text class="p" y="316.6"><tspan x="180.5">(</tspan><tspan x="327">)</tspan></text><text class="t" x="203" y="316.6">CHANGE</text>
<text class="m" x="37" y="349.3">堀出尚子</text><text class="p" y="349.3"><tspan x="180.5">(</tspan><tspan x="327">)</tspan></text><text class="t" x="203" y="349.3">CHANGE</text></g>
<g id="team-63"><text class="n" x="28" y="382">63</text>
<text class="m" x="37" y="382">福井敬子</text><text class="p" y="382"><tspan x="180.5">(</tspan><tspan x="327">)</tspan></text><text class="t" x="203" y="382">USL</text>
<text class="m" x="37" y="414.7">河村明代</text><text class="p" y="414.7"><tspan x="180.5">(</tspan><tspan x="327">)</tspan></text><text class="t" x="203" y="414.7">USL</text></g>
<g id="team-64"><text class="n" x="28" y="447.4">64</text>
<text class="m" x="37" y="447.4">樹所真澄</text><text class="p" y="447.4"><tspan x="180.5">(</tspan><tspan x="327">)</tspan></text><text class="t" x="203" y="447.4">MIG</text>
<text class="m" x="37" y="480.1">竹内操</text><text class="p" y="480.1"><tspan x="180.5">(</tspan><tspan x="327">)</tspan></text><text class="t" x="203" y="480.1">ｼﾞｭﾋﾟﾀｰ</text></g>
<g id="team-65"><text class="n" x="28" y="512.8">65</text>
<text class="m" x="37" y="512.8">浅野裕子</text><text class="p" y="512.8"><tspan x="180.5">(</tspan><tspan x="327">)</tspan></text><text class="t" x="203" y="512.8">ﾏｻﾞｰｸﾞｰｽ</text>
<text class="m" x="37" y="544.5">楠本佳子</text><text class="p" y="544.5"><tspan x="180.5">(</tspan><tspan x="327">)</tspan></text><text class="t" x="203" y="544.5">ﾜﾝﾀﾞｰG</text></g>
</g>
</svg>
